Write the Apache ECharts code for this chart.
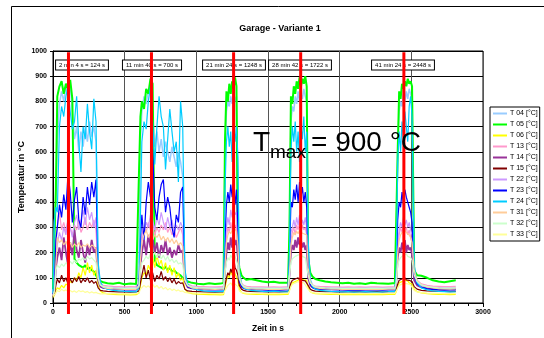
<!DOCTYPE html>
<html><head><meta charset="utf-8">
<script src="https://cdn.jsdelivr.net/npm/echarts/dist/echarts.min.js"></script>
<style>html,body{margin:0;padding:0;background:#fff}#c{width:544px;height:338px}</style>
</head><body><div id="c"></div>
<script>
const TIME = [
 0,10,20,30,45,60,75,90,105,120,135,150,165,180,195,210,225,240,255,270,285,300,315,330,350,
 380,420,460,500,540,580,
 600,610,620,635,650,665,680,695,710,725,740,755,770,785,800,815,830,845,860,875,890,905,920,940,
 970,1010,1050,1090,1130,1170,
 1190,1200,1210,1220,1230,1240,1250,1260,1270,1280,1290,1300,1315,1330,1350,
 1380,1420,1460,1500,1540,1580,1620,
 1640,1650,1660,1670,1680,1690,1700,1710,1720,1730,1740,1750,1760,1770,1780,1795,1810,1830,
 1860,1900,1940,1980,2020,2060,2100,2140,2180,2220,2260,2300,2340,2370,
 2385,2395,2405,2415,2425,2435,2445,2455,2465,2475,2485,2495,2505,2520,2540,
 2570,2610,2650,2690,2730,2770,2810
];
const T04 = [
 35,320,400,650,790,840,800,860,820,870,760,650,700,600,680,620,700,640,720,660,700,640,140,80,65,
 60,57,55,55,54,55,
 200,650,760,820,790,850,830,760,620,680,600,650,580,640,600,560,620,580,540,600,560,500,110,70,
 62,58,56,55,55,56,
 55,600,760,800,780,820,790,840,800,820,420,120,80,65,60,
 58,56,55,54,55,54,55,
 55,280,720,780,760,820,790,840,800,830,810,850,820,800,200,95,70,62,
 58,57,56,55,55,54,55,54,55,54,55,54,55,55,
 55,120,650,760,800,780,830,800,840,810,850,830,800,140,85,
 68,60,57,56,55,55,56
];
const T05 = [
 55,60,450,820,860,880,830,870,850,885,810,175,160,150,145,140,150,135,140,130,125,110,95,88,82,
 78,76,80,74,77,75,
 520,740,800,770,850,830,890,870,170,150,145,140,135,145,130,140,125,130,120,115,110,100,92,85,
 80,76,74,78,75,77,
 80,650,840,800,870,830,880,850,895,860,190,140,110,100,92,
 95,90,85,82,84,80,80,
 80,300,820,790,860,830,880,850,895,860,890,870,900,860,180,120,105,95,
 90,85,82,80,78,80,76,78,75,80,78,77,76,78,
 78,85,600,840,810,870,850,880,860,890,870,880,860,130,110,
 108,100,90,85,82,86,90
];
const T06 = [
 22,30,50,60,55,70,60,75,70,85,80,100,90,120,100,140,110,160,120,150,110,130,70,48,40,
 36,34,33,33,32,33,
 40,70,100,120,110,150,130,180,140,190,150,170,130,160,120,150,110,140,100,120,90,100,55,42,
 37,35,34,33,33,32,
 33,60,90,110,100,130,110,140,115,120,90,55,42,38,36,
 35,34,34,33,34,33,34,
 34,50,70,80,75,85,80,90,85,95,88,92,85,90,60,45,40,37,
 36,35,34,34,33,33,34,33,33,34,33,33,34,34,
 34,45,65,80,75,85,80,90,85,88,80,85,75,55,45,
 40,37,35,34,34,33,34
];
const T13 = [
 30,55,220,300,360,290,320,280,330,300,270,310,290,330,280,300,340,290,320,300,330,290,110,78,70,
 68,66,65,64,65,64,
 80,200,270,300,280,320,290,310,270,300,280,310,290,320,280,300,270,290,260,280,300,270,100,75,
 68,66,65,64,64,65,
 64,180,260,300,280,320,290,330,300,310,220,100,78,70,66,
 65,64,64,63,64,63,64,
 64,140,250,280,300,270,310,290,320,280,310,290,300,270,120,82,72,67,
 66,65,64,64,63,64,63,64,63,64,64,63,64,64,
 64,90,220,270,300,280,310,290,300,270,290,260,240,120,90,
 76,70,67,66,65,65,66
];
const T14 = [
 30,45,140,180,220,170,260,200,150,240,190,290,210,180,250,200,160,230,190,250,200,220,90,65,60,
 58,57,56,55,56,55,
 60,150,200,250,190,270,220,260,200,240,180,230,200,250,190,220,180,210,190,230,200,210,85,62,
 58,57,56,55,55,56,
 55,130,200,240,210,260,220,270,230,250,180,80,65,60,57,
 56,55,55,54,55,54,55,
 55,110,200,230,210,250,220,260,230,250,220,240,210,230,100,70,62,58,
 57,56,55,55,54,55,54,55,54,55,54,55,55,55,
 55,80,180,220,200,240,210,250,200,230,210,220,190,90,70,
 62,58,56,55,55,54,55
];
const T15 = [
 25,35,70,95,80,110,85,100,75,95,80,100,85,105,80,95,85,100,80,90,78,85,60,50,48,
 46,45,44,44,43,44,
 48,80,110,150,100,130,90,120,85,110,95,125,90,105,85,100,80,95,75,85,78,80,55,48,
 46,45,44,43,44,43,
 43,70,100,120,110,135,120,185,140,130,110,70,55,50,47,
 46,45,45,44,45,44,45,
 45,60,80,90,85,95,88,100,92,98,90,95,88,92,70,55,50,47,
 46,45,45,44,44,45,44,45,44,45,45,44,45,45,
 45,55,75,90,85,95,90,100,92,98,90,95,85,65,55,
 50,48,47,46,46,45,46
];
const T22 = [
 30,50,180,230,280,250,300,270,340,300,260,320,350,290,330,370,310,380,330,360,300,340,100,72,65,
 63,62,60,60,59,60,
 70,180,250,280,320,300,350,330,290,340,310,360,320,290,340,300,330,280,310,290,320,300,95,70,
 64,62,60,60,60,61,
 60,200,300,340,310,370,340,390,350,360,250,100,75,66,62,
 61,60,60,59,60,59,60,
 60,150,280,300,330,300,340,310,350,300,330,310,340,300,130,80,68,63,
 62,61,60,60,60,59,60,59,60,60,59,60,60,60,
 60,90,240,290,320,300,340,310,330,300,320,290,270,120,85,
 70,64,62,61,60,60,61
];
const T23 = [
 35,60,250,300,390,340,430,370,515,440,320,410,460,330,300,420,350,460,390,480,420,490,110,70,60,
 57,55,54,52,53,52,
 80,250,350,250,400,480,420,610,380,330,420,470,490,360,420,380,300,260,350,320,440,460,100,65,
 58,55,53,52,52,53,
 52,250,390,440,400,470,420,480,390,450,300,90,65,58,55,
 54,53,52,51,52,51,52,
 52,180,400,380,450,410,470,400,480,420,460,400,440,380,150,75,62,56,
 55,54,53,52,52,51,52,51,52,53,52,51,52,52,
 52,100,330,400,380,440,390,450,420,400,380,360,320,110,75,
 62,56,54,52,51,52,52
];
const T24 = [
 40,330,380,360,700,780,740,820,860,760,690,720,820,640,520,700,650,790,680,610,810,720,160,85,62,
 55,50,48,46,45,44,
 60,350,640,720,690,800,860,720,550,700,820,740,700,530,650,770,680,600,640,480,800,700,130,75,
 60,52,48,46,45,46,
 45,450,640,700,620,680,560,720,640,700,580,130,75,60,55,
 50,48,46,45,47,45,44,
 45,200,600,700,640,720,600,680,560,700,650,740,600,680,250,90,65,55,
 50,48,46,45,44,45,43,44,45,44,43,44,45,46,
 45,150,560,680,600,720,650,760,700,640,780,820,740,150,80,
 60,52,48,46,45,44,44
];
const T31 = [
 28,45,150,260,240,250,230,245,225,240,220,235,225,240,220,230,225,235,220,230,225,215,100,70,62,
 58,56,55,54,55,54,
 65,170,240,270,290,260,280,250,270,260,275,250,265,245,260,240,255,235,250,230,240,225,95,68,
 60,57,55,55,54,55,
 55,150,240,270,285,275,290,280,295,285,230,110,75,64,58,
 56,55,55,54,55,54,55,
 55,120,230,260,280,270,285,275,290,280,285,275,280,270,140,85,70,62,
 58,56,55,55,54,54,55,54,54,55,54,54,55,55,
 55,85,200,250,270,280,275,290,280,285,270,260,240,130,90,
 72,64,60,57,56,55,56
];
const T32 = [
 30,50,130,150,140,155,145,160,150,165,155,170,160,175,170,180,170,185,175,180,170,160,100,72,66,
 62,60,59,58,59,58,
 70,130,160,170,185,175,195,185,200,180,195,175,190,170,185,165,175,160,170,155,160,150,90,70,
 64,61,60,59,58,59,
 59,120,160,180,170,190,180,195,185,190,150,95,75,67,62,
 60,59,59,58,59,58,59,
 59,110,160,175,170,185,180,190,185,195,185,190,180,185,110,80,70,64,
 62,60,59,59,58,58,59,58,58,59,58,58,59,59,
 59,80,150,170,180,175,190,185,195,185,190,180,170,110,85,
 72,66,62,60,59,59,60
];
const T33 = [
 25,30,40,50,45,55,48,52,45,50,44,48,42,50,45,48,42,46,40,44,40,42,38,36,36,
 37,38,36,37,36,37,
 40,55,60,70,62,68,60,75,62,70,58,66,55,62,52,58,50,55,48,52,46,48,42,40,
 40,39,38,38,37,38,
 38,50,60,70,65,80,70,85,75,80,65,48,42,40,39,
 38,38,37,37,38,37,38,
 38,50,65,75,70,80,75,85,78,82,75,80,72,76,55,45,41,39,
 39,38,38,37,37,38,37,38,37,37,38,37,38,38,
 38,48,60,70,65,75,70,78,72,76,70,72,65,50,44,
 41,39,38,38,37,37,38
];
const SERIES_NAMES = ['T 04 [°C]','T 05 [°C]','T 06 [°C]','T 13 [°C]','T 14 [°C]','T 15 [°C]','T 22 [°C]','T 23 [°C]','T 24 [°C]','T 31 [°C]','T 32 [°C]','T 33 [°C]'];
const SERIES_VALUES = [T04,T05,T06,T13,T14,T15,T22,T23,T24,T31,T32,T33];
const SERIES_COLORS = ['#99ccff','#00ff00','#ffff00','#ff99cc','#993399','#800000','#cc99ff','#0000ff','#00ccff','#ffcc99','#ccffcc','#ffff99'];
const SERIES_WIDTHS = [1.5,2,1.2,1.2,1.8,1.2,1.2,1.2,1.2,1.2,1.2,1.2];
const RED_LINES = [108, 687, 1260, 1728, 2448];
const ANNOT_X = [203, 688, 1260, 1725, 2444];
const ANNOT_Y = 945;
const ANNOT_TEXT = ['2 min 4 s = 124 s','11 min 40 s = 700 s','21 min 24 s = 1248 s','28 min 42 s = 1722 s','41 min 24 s = 2448 s'];
const X_TICKS = [0, 500, 1000, 1500, 2000, 2500, 3000];
const Y_TICKS = [0, 100, 200, 300, 400, 500, 600, 700, 800, 900, 1000];

const FONT = 'Liberation Sans, Arial, sans-serif';
const chart = echarts.init(document.getElementById('c'), null, {renderer: 'canvas'});

const lineSeries = SERIES_NAMES.map((name, k) => ({
  name, type: 'line', symbol: 'none', showSymbol: false, animation: false,
  data: TIME.map((t, i) => [t, SERIES_VALUES[k][i]]),
  lineStyle: {color: SERIES_COLORS[k], width: SERIES_WIDTHS[k]},
  itemStyle: {color: SERIES_COLORS[k]},
  z: 2
}));

const option = {
  animation: false,
  backgroundColor: '#fff',
  textStyle: {fontFamily: FONT},
  grid: {left: 53, top: 51, right: 61, bottom: 33, show: true, borderColor: '#000', borderWidth: 1, backgroundColor: '#fff'},
  xAxis: {
    type: 'value', min: X_TICKS[0], max: X_TICKS[X_TICKS.length-1], interval: 500,
    name: 'Zeit in s', nameLocation: 'middle', nameGap: 21, nameMoveOverlap: false,
    nameTextStyle: {fontFamily: FONT, fontSize: 8.5, fontWeight: 'bold', color: '#000'},
    axisLine: {lineStyle: {color: '#000', width: 1}},
    axisTick: {show: true, inside: false, length: 4, lineStyle: {color: '#000'}},
    minorTick: {show: true, splitNumber: 5, length: 3, lineStyle: {color: '#000'}},
    axisLabel: {fontFamily: FONT, fontSize: 7, fontWeight: 'bold', color: '#000', margin: 6, formatter: v => String(v)},
    splitLine: {show: true, lineStyle: {color: '#555', width: 1}}
  },
  yAxis: {
    type: 'value', min: Y_TICKS[0], max: Y_TICKS[Y_TICKS.length-1], interval: 100,
    name: 'Temperatur in °C', nameLocation: 'middle', nameGap: 27, nameMoveOverlap: false,
    nameTextStyle: {fontFamily: FONT, fontSize: 9, fontWeight: 'bold', color: '#000'},
    axisLine: {show: true, lineStyle: {color: '#000', width: 1}},
    axisTick: {show: true, inside: false, length: 3, lineStyle: {color: '#000'}},
    axisLabel: {fontFamily: FONT, fontSize: 7, fontWeight: 'bold', color: '#000', margin: 6, formatter: v => String(v)},
    splitLine: {show: true, lineStyle: {color: '#000', width: 1}}
  },
  legend: {
    data: SERIES_NAMES, orient: 'vertical', left: 490, top: 107,
    icon: 'rect', padding: [3, 2, 3, 3], itemWidth: 14, itemHeight: 2, itemGap: 4,
    borderColor: '#000', borderWidth: 1, backgroundColor: '#fff',
    textStyle: {fontFamily: FONT, fontSize: 7, color: '#000', padding: [0,0,0,-2]}
  },
  graphic: [
    {type: 'rect', shape: {x: 11.5, y: 6.5, width: 700, height: 500}, style: {fill: 'none', stroke: '#000', lineWidth: 1}, z: 100, silent: true},
    {type: 'text', x: 280, y: 29, style: {text: 'Garage - Variante 1', font: 'bold 9px ' + FONT, fill: '#000', align: 'center', verticalAlign: 'middle'}, z: 100},
    {type: 'text', x: 253, y: 143.3, style: {text: 'T', font: '28px ' + FONT, fill: '#000', align: 'left', verticalAlign: 'middle'}, z: 100},
    {type: 'text', x: 270, y: 153, style: {text: 'max', font: '19px ' + FONT, fill: '#000', align: 'left', verticalAlign: 'middle'}, z: 100},
    {type: 'text', x: 311, y: 143.3, style: {text: '= 900 °C', font: '28px ' + FONT, fill: '#000', align: 'left', verticalAlign: 'middle'}, z: 100}
  ],
  series: lineSeries.concat([
    {
      name: 'annotations', type: 'custom', z: 5, clip: false,
      data: ANNOT_X.map(x => [x, ANNOT_Y]),
      renderItem: (params, api) => {
        const p = api.coord([api.value(0), api.value(1)]);
        return {type: 'text', x: Math.round(p[0]), y: Math.round(p[1]), style: {
          text: ANNOT_TEXT[params.dataIndex], align: 'center', verticalAlign: 'middle',
          font: '6px ' + FONT, fill: '#000', backgroundColor: '#fff',
          borderColor: '#000', borderWidth: 1, padding: [2, 3, 1, 3]
        }};
      }
    },
    {
      name: 'marks', type: 'custom', z: 6, clip: false,
      data: RED_LINES.map(x => [x, 0]),
      renderItem: (params, api) => {
        const top = api.coord([api.value(0), 995]);
        const bot = api.coord([api.value(0), 0]);
        return {type: 'line', shape: {x1: top[0], y1: top[1], x2: top[0], y2: bot[1] + 11},
          style: {stroke: '#ff0000', lineWidth: 3}};
      }
    }
  ])
};
chart.setOption(option);
</script></body></html>
